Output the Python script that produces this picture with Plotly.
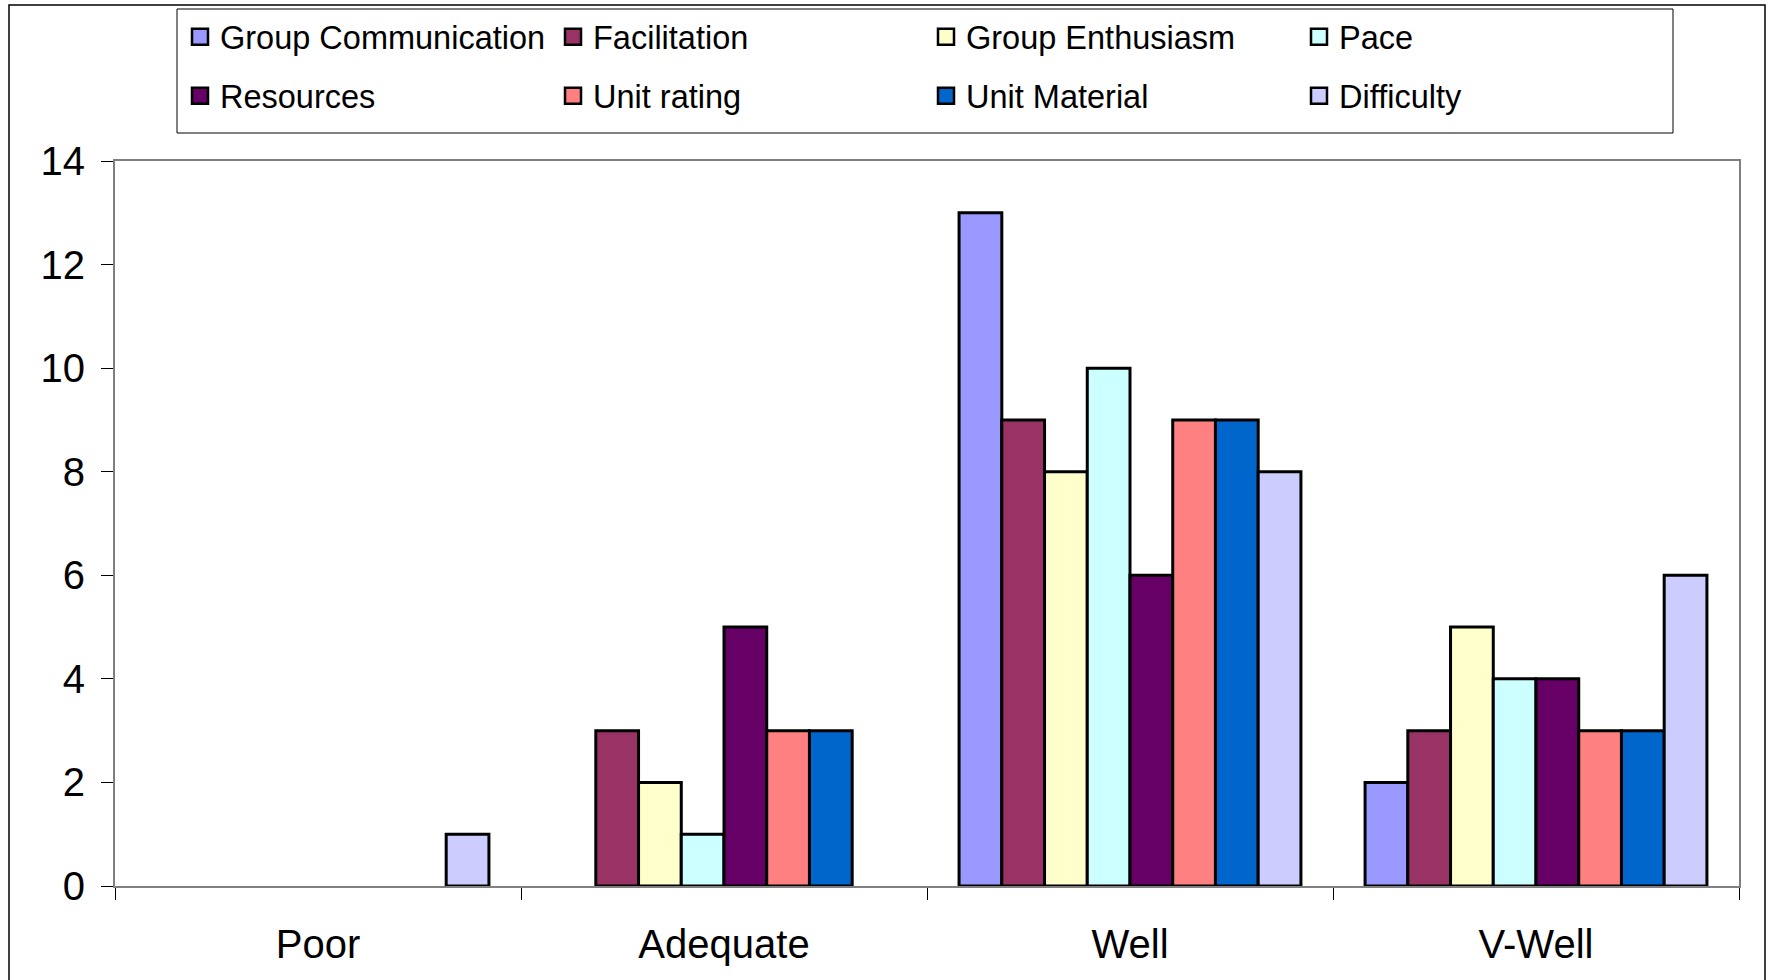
import plotly.graph_objects as go

# Ratings per category for each survey item
categories = ["Poor", "Adequate", "Well", "V-Well"]

group_communication = [0, 0, 13, 2]
facilitation = [0, 3, 9, 3]
group_enthusiasm = [0, 2, 8, 5]
pace = [0, 1, 10, 4]
resources = [0, 5, 6, 4]
unit_rating = [0, 3, 9, 3]
unit_material = [0, 3, 9, 3]
difficulty = [1, 0, 8, 6]

series_names = [
    "Group Communication", "Facilitation", "Group Enthusiasm", "Pace",
    "Resources", "Unit rating", "Unit Material", "Difficulty",
]
series_values = [
    group_communication, facilitation, group_enthusiasm, pace,
    resources, unit_rating, unit_material, difficulty,
]
series_colors = [
    "#9999FF", "#993366", "#FFFFCC", "#CCFFFF",
    "#660066", "#FF8080", "#0066CC", "#CCCCFF",
]

W, H = 1771, 980
ML, MR, MT, MB = 115, 32, 161, 94
PW, PH = W - ML - MR, H - MT - MB


def px_x(x):
    return (x - ML) / PW


def px_y(y):
    return (H - MB - y) / PH


FONT = "Liberation Sans, Arial, sans-serif"

fig = go.Figure()
for i, (name, vals, col) in enumerate(zip(series_names, series_values, series_colors)):
    legend_id = "legend" if i < 4 else "legend2"
    fig.add_trace(go.Bar(
        x=categories,
        y=[v if v != 0 else None for v in vals],
        name=name,
        legendgroup=name,
        showlegend=False,
        marker=dict(color=col, line=dict(color="black", width=3)),
    ))
    # square swatch shown in the legend for this series
    fig.add_trace(go.Scatter(
        x=[None], y=[None],
        mode="markers",
        name=name,
        legendgroup=name,
        legend=legend_id,
        marker=dict(symbol="square", size=16, color=col,
                    line=dict(color="black", width=2.5)),
    ))

legend_common = dict(
    orientation="h",
    xanchor="left",
    yanchor="middle",
    bgcolor="rgba(0,0,0,0)",
    borderwidth=0,
    font=dict(family=FONT, size=32.5, color="black"),
    entrywidth=328,
    entrywidthmode="pixels",
    itemclick=False,
    itemdoubleclick=False,
    itemsizing="trace",
)

fig.update_layout(
    width=W,
    height=H,
    margin=dict(l=ML, r=MR, t=MT, b=MB, autoexpand=False),
    paper_bgcolor="white",
    plot_bgcolor="white",
    barmode="group",
    bargap=0.158,
    bargroupgap=0,
    font=dict(family=FONT, color="black"),
    legend=dict(x=px_x(180), y=px_y(37), **legend_common),
    legend2=dict(x=px_x(180), y=px_y(96), **legend_common),
    xaxis=dict(
        type="category",
        showgrid=False,
        showline=True,
        linecolor="#808080",
        linewidth=2,
        mirror=True,
        ticks="outside",
        tickson="boundaries",
        ticklen=12,
        tickcolor="black",
        tickwidth=1,
        tickfont=dict(family=FONT, size=40, color="black"),
        ticklabelstandoff=22,
    ),
    yaxis=dict(
        range=[0, 14],
        dtick=2,
        showgrid=False,
        zeroline=False,
        showline=True,
        linecolor="#808080",
        linewidth=2,
        mirror=True,
        ticks="outside",
        ticklen=12,
        tickcolor="black",
        tickwidth=1,
        tickfont=dict(family=FONT, size=40, color="black"),
        ticklabelstandoff=8,
    ),
    shapes=[
        # outer frame of the chart sheet
        dict(type="rect", xref="paper", yref="paper",
             x0=px_x(9), x1=px_x(1765), y0=px_y(990), y1=px_y(5),
             line=dict(color="black", width=1.5), fillcolor="rgba(0,0,0,0)",
             layer="below"),
        # legend box
        dict(type="rect", xref="paper", yref="paper",
             x0=px_x(177), x1=px_x(1673), y0=px_y(133), y1=px_y(9),
             line=dict(color="black", width=1), fillcolor="rgba(0,0,0,0)"),
    ],
)

fig.write_html("out.html")
